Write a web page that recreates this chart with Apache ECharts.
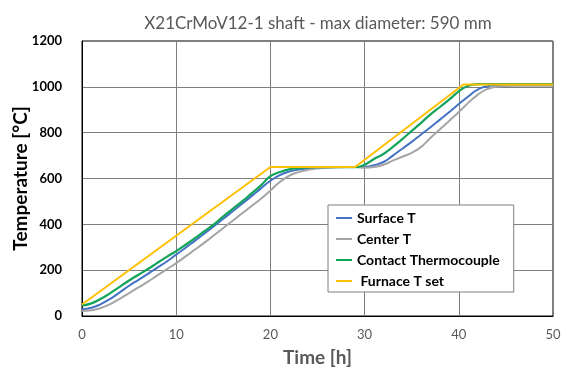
<!DOCTYPE html>
<html>
<head>
<meta charset="utf-8">
<script src="https://cdn.jsdelivr.net/npm/echarts@6/dist/echarts.min.js"></script>
<style>html,body{margin:0;padding:0;background:#fff;}#c{width:565px;height:373px;}</style>
</head>
<body>
<div id="c"></div>
<script>
var timeHours = [0,1,2,3,4,5,6,7,8,9,10,11,12,13,14,15,16,17,18,19,20,21,22,23,24,25,26,27,28,29,30,31,32,33,34,35,36,37,38,39,40,41,42,43,44,45,46,47,48,49,50];
var surfaceT = [30,36,52,75,103,132,158,184,211,238,268,298,329,360,392,424,457,490,523,557,590,615,630,639,644,647,649,650,650,650,651,658,672,700,730,760,792,824,857,890,925,958,988,1002,1007,1008,1008,1008,1008,1008,1008];
var centerT = [22,25,35,52,75,100,125,150,177,204,231,260,290,320,352,384,416,448,480,512,548,585,612,628,638,644,647,649,650,650,647,650,660,678,695,712,738,778,815,852,890,930,965,990,1000,1004,1005,1005,1005,1005,1005];
var contactT = [45,55,75,100,127,155,180,205,232,258,283,311,340,370,400,435,468,500,535,570,610,628,640,645,648,649,650,650,650,650,660,685,707,738,772,808,843,880,912,945,980,1005,1012,1012,1012,1012,1012,1012,1012,1012,1012];
var furnaceTime = [0,20,29,40.5,50];
var furnaceT = [50,650,650,1010,1010];
var xTicks = [0,10,20,30,40,50];
var yTicks = [0,200,400,600,800,1000,1200];

function pairs(t, v){ return t.map(function(x,i){ return [x, v[i]]; }); }

var chart = echarts.init(document.getElementById('c'), null, {renderer:'canvas'});
var font = 'Lato, "Open Sans", sans-serif';
chart.setOption({
  animation:false,
  backgroundColor:'#fff',
  title:{ text:'X21CrMoV12-1 shaft - max diameter: 590 mm', left:313, top:10, textAlign:'center',
    textStyle:{ fontFamily:font, fontSize:17, fontWeight:'normal', color:'#595959' } },
  grid:{ left:82, right:12, top:41, bottom:57, containLabel:false, outerBoundsMode:'none',
    show:true, borderColor:'#000', borderWidth:1, backgroundColor:'transparent' },
  legend:{
    orient:'vertical', left:328, top:205, itemWidth:16, itemHeight:2, itemGap:7, icon:'rect',
    backgroundColor:'#fff', borderColor:'#7f7f7f', borderWidth:1, padding:[6,14,4,8],
    textStyle:{ fontFamily:font, fontSize:14, fontWeight:'bold', color:'#000' },
    data:['Surface T','Center T','Contact Thermocouple',' Furnace T set']
  },
  xAxis:{ type:'value', min:xTicks[0], max:xTicks[xTicks.length-1], interval:10,
    name:'Time [h]', nameLocation:'middle', nameGap:32, nameMoveOverlap:false,
    nameTextStyle:{ fontFamily:font, fontSize:19, fontWeight:'bold', color:'#595959' },
    axisLine:{ lineStyle:{ color:'#000', width:1 } }, axisTick:{ show:false },
    axisLabel:{ fontFamily:font, fontSize:13, color:'#595959', margin:12, formatter:function(v){ return String(v); } },
    splitLine:{ show:true, lineStyle:{ color:'#7f7f7f', width:1 } } },
  yAxis:{ type:'value', min:yTicks[0], max:yTicks[yTicks.length-1], interval:200,
    name:'Temperature [°C]', nameLocation:'middle', nameGap:52, nameMoveOverlap:false,
    nameTextStyle:{ fontFamily:font, fontSize:19, fontWeight:'bold', color:'#000' },
    axisLine:{ show:true, lineStyle:{ color:'#000', width:1 } }, axisTick:{ show:false },
    axisLabel:{ fontFamily:font, fontSize:13, fontWeight:'bold', color:'#000', margin:20, formatter:function(v){ return String(v); } },
    splitLine:{ show:true, lineStyle:{ color:'#7f7f7f', width:1 } } },
  series:[
    { name:'Surface T', type:'line', data:pairs(timeHours, surfaceT), showSymbol:false, smooth:0.5,
      lineStyle:{ color:'#4472C4', width:2 }, itemStyle:{ color:'#4472C4' } },
    { name:'Center T', type:'line', data:pairs(timeHours, centerT), showSymbol:false, smooth:0.5,
      lineStyle:{ color:'#A5A5A5', width:2 }, itemStyle:{ color:'#A5A5A5' } },
    { name:'Contact Thermocouple', type:'line', data:pairs(timeHours, contactT), showSymbol:false, smooth:0.5,
      lineStyle:{ color:'#12A45A', width:2.2 }, itemStyle:{ color:'#12A45A' } },
    { name:' Furnace T set', type:'line', data:pairs(furnaceTime, furnaceT), showSymbol:false,
      lineStyle:{ color:'#FFC000', width:2 }, itemStyle:{ color:'#FFC000' } }
  ]
});
</script>
</body>
</html>
